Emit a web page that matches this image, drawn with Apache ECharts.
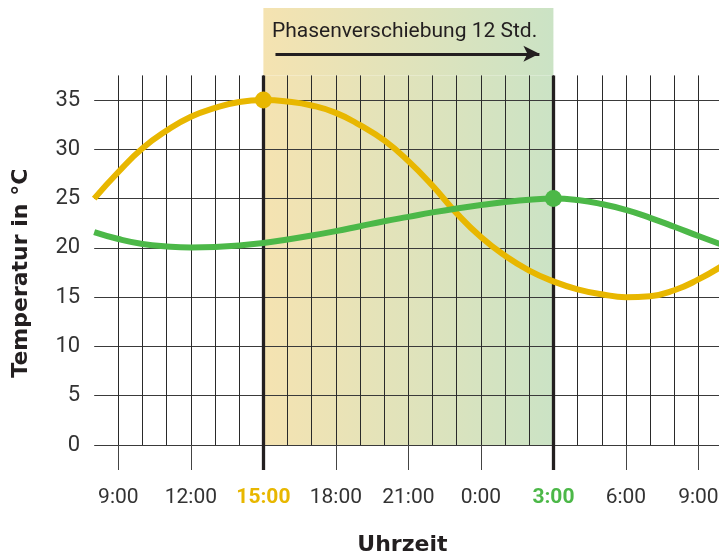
<!DOCTYPE html>
<html>
<head>
<meta charset="utf-8">
<script src="https://cdn.jsdelivr.net/npm/echarts@6/dist/echarts.min.js"></script>
<style>html,body{margin:0;padding:0;background:#fff}#c{width:719px;height:555px}</style>
</head>
<body>
<div id="c"></div>
<script>
// ---- data ----
const hours = [8,9,10,11,12,13,14,15,16,17,18,19,20,21,22,23,24,25,26,27,28,29,30,31,32,33,34];
const tempOrange = [25.0,27.7,30.1,31.9,33.3,34.2,34.8,35.0,34.85,34.45,33.7,32.45,30.9,28.8,26.3,23.5,21.1,19.2,17.7,16.6,15.8,15.3,15.0,15.1,15.7,16.8,18.2];
const tempGreen  = [21.6,20.9,20.4,20.15,20.05,20.1,20.25,20.5,20.85,21.25,21.7,22.2,22.7,23.15,23.6,24.0,24.35,24.65,24.88,25.0,24.85,24.45,23.85,23.05,22.15,21.2,20.3];
const tickHours = [9,12,15,18,21,24,27,30,33];
const peakOrange = 15;
const peakGreen = 27;
const shiftLabel = 'Phasenverschiebung 12 Std.';
const yTitle = 'Temperatur in °C';
const xTitle = 'Uhrzeit';

const ORANGE = '#e8b700';
const GREEN = '#4cb848';
const INK = '#231f20';
const FONT = "Roboto, 'Liberation Sans', sans-serif";
const BOLDFONT = "'DejaVu Sans', sans-serif";

function mk(values, peak) {
  return hours.map((h, i) => h === peak ? { value: [h, values[i]] } : { value: [h, values[i]], symbol: 'none' });
}
function bandColor() {
  return new echarts.graphic.LinearGradient(0, 0, 1, 0, [
    { offset: 0, color: '#f5e3b1' },
    { offset: 1, color: '#cbe3c5' }
  ]);
}

const chart = echarts.init(document.getElementById('c'), null, { renderer: 'canvas' });
const gridLeft = 94.2, gridWidth = 628.4;
chart.setOption({
  animation: false,
  title: {
    text: shiftLabel, left: 272, top: 21, padding: 0,
    textStyle: { fontFamily: FONT, fontSize: 21, fontWeight: 'normal', color: INK }
  },
  grid: [
    { left: gridLeft, top: 75.4, width: gridWidth, height: 369.6, outerBoundsMode: 'none', containLabel: false },
    { left: gridLeft, top: 8, width: gridWidth, height: 67.4, outerBoundsMode: 'none', containLabel: false }
  ],
  xAxis: [
    {
      type: 'value', gridIndex: 0, min: 8, max: 34, interval: 1, z: 1.5,
      axisLine: { show: false }, axisTick: { show: false }, axisLabel: { show: false },
      splitLine: { show: true, showMinLine: false, lineStyle: { color: '#2a2a2a', width: 1 } }
    },
    {
      type: 'value', gridIndex: 0, min: 8, max: 34, position: 'bottom', z: 1.55,
      axisLine: { show: false }, splitLine: { show: false },
      axisTick: { show: true, customValues: tickHours, length: 25, lineStyle: { color: '#444', width: 1 } },
      axisLabel: {
        customValues: tickHours, margin: 42,
        fontFamily: FONT, fontSize: 21, color: '#333',
        formatter: function (v) {
          const s = (v % 24) + ':00';
          if (v === peakOrange) return '{a|' + s + '}';
          if (v === peakGreen) return '{b|' + s + '}';
          return s;
        },
        rich: {
          a: { fontFamily: FONT, fontSize: 21, fontWeight: 'bold', color: ORANGE },
          b: { fontFamily: FONT, fontSize: 21, fontWeight: 'bold', color: GREEN }
        }
      },
      name: xTitle, nameLocation: 'middle', nameGap: 89,
      nameTextStyle: { fontFamily: BOLDFONT, fontSize: 22, fontWeight: 'bold', color: INK, padding: [0, 12, 0, 0] }
    },
    {
      type: 'value', gridIndex: 0, min: 8, max: 34, position: 'bottom', z: 1.6,
      axisLine: { show: false }, axisLabel: { show: false }, splitLine: { show: false },
      axisTick: { show: true, customValues: [peakOrange, peakGreen], length: 25, lineStyle: { color: INK, width: 3.3 } }
    },
    {
      type: 'value', gridIndex: 1, min: 8, max: 34, show: false
    }
  ],
  yAxis: [
    {
      type: 'value', gridIndex: 0, min: 0, max: 37.5, interval: 5, z: 1.5,
      axisLine: { show: false }, axisTick: { show: false },
      splitLine: { show: true, showMaxLine: false, lineStyle: { color: '#3a3a3a', width: 1 } },
      axisLabel: { showMaxLabel: false, margin: 14, fontFamily: FONT, fontSize: 22, color: '#333' },
      name: yTitle, nameLocation: 'middle', nameGap: 62,
      nameTextStyle: { fontFamily: BOLDFONT, fontSize: 22, fontWeight: 'bold', color: INK, padding: [0, 26, 0, 0] }
    },
    { type: 'value', gridIndex: 1, min: 0, max: 1, show: false }
  ],
  series: [
    {
      type: 'line', xAxisIndex: 0, yAxisIndex: 0, data: [], z: 1,
      markArea: { silent: true, z: 1, itemStyle: { color: bandColor() }, data: [[{ xAxis: peakOrange }, { xAxis: peakGreen }]] },
      markLine: {
        silent: true, z: 1.7, symbol: 'none', label: { show: false },
        lineStyle: { color: INK, width: 3.3, type: 'solid' },
        data: [{ xAxis: peakOrange }, { xAxis: peakGreen }]
      }
    },
    {
      type: 'line', xAxisIndex: 3, yAxisIndex: 1, data: [], z: 1,
      markArea: { silent: true, z: 1, itemStyle: { color: bandColor() }, data: [[{ xAxis: peakOrange, yAxis: 0 }, { xAxis: peakGreen, yAxis: 1 }]] },
      markLine: {
        silent: true, z: 3, symbol: ['none', 'arrow'], symbolSize: [12, 16], label: { show: false },
        lineStyle: { color: INK, width: 3, type: 'solid' },
        data: [[{ coord: [peakOrange + 0.5, 0.32] }, { coord: [peakGreen - 0.58, 0.32] }]]
      }
    },
    {
      type: 'line', xAxisIndex: 0, yAxisIndex: 0, z: 3, smooth: 0.5,
      symbol: 'circle', symbolSize: 17, showSymbol: true,
      lineStyle: { color: ORANGE, width: 6 }, itemStyle: { color: ORANGE },
      data: mk(tempOrange, peakOrange)
    },
    {
      type: 'line', xAxisIndex: 0, yAxisIndex: 0, z: 3, smooth: 0.5,
      symbol: 'circle', symbolSize: 17, showSymbol: true,
      lineStyle: { color: GREEN, width: 6 }, itemStyle: { color: GREEN },
      data: mk(tempGreen, peakGreen)
    }
  ]
});
</script>
</body>
</html>
